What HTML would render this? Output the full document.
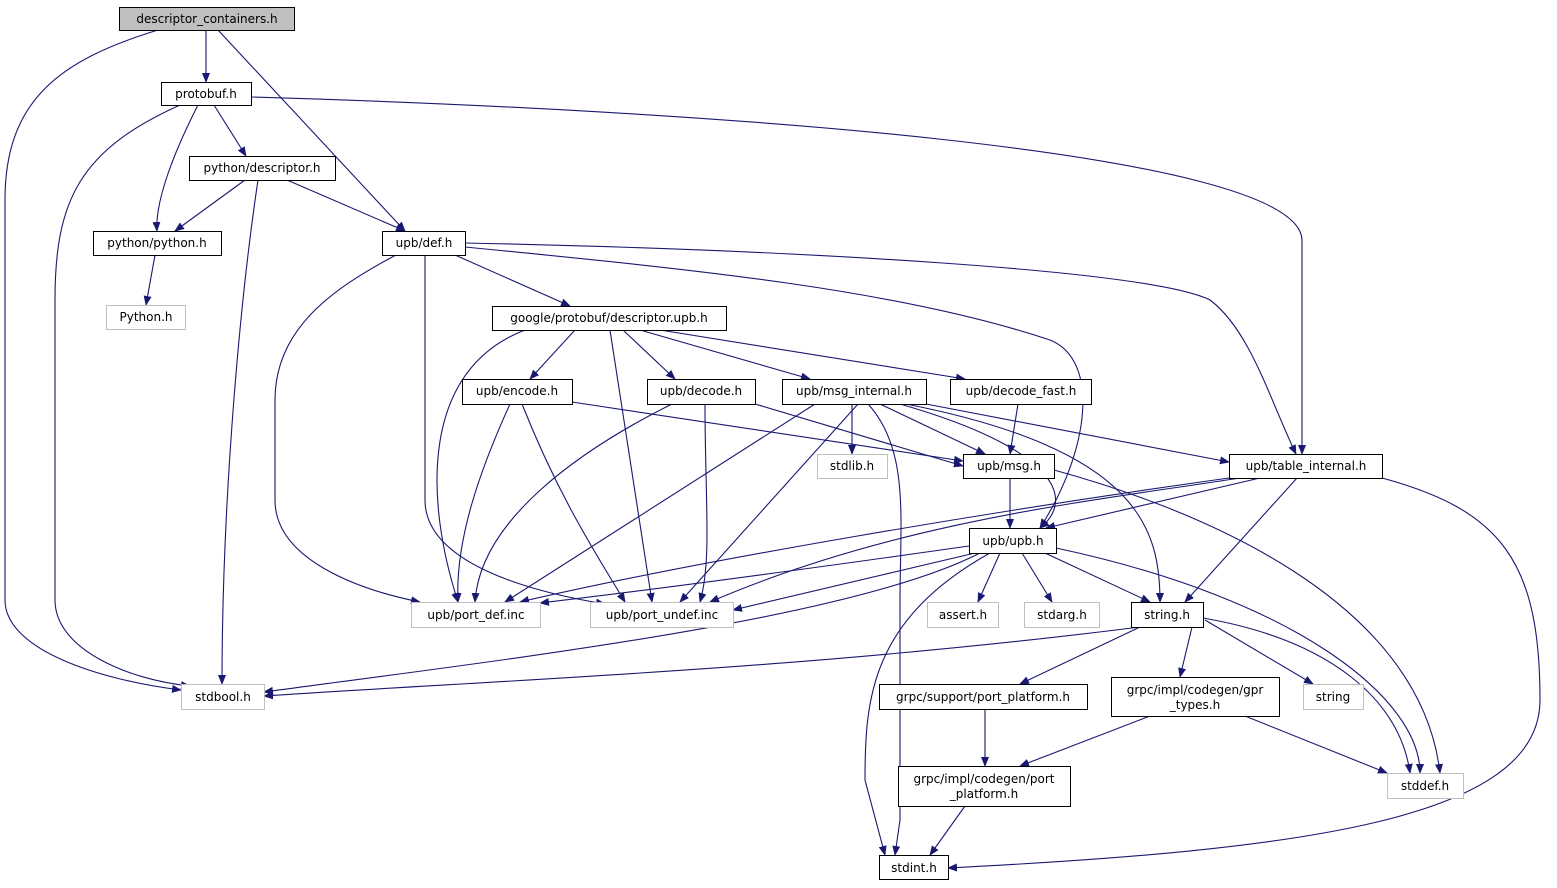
<!DOCTYPE html>
<html><head><meta charset="utf-8"><style>
html,body{margin:0;padding:0;background:#fff;}
svg{display:block;}
text{font-family:"DejaVu Sans","Liberation Sans",sans-serif;font-size:12px;fill:#000;}
</style></head><body>
<svg width="1557" height="888" viewBox="0 0 1557 888" xmlns="http://www.w3.org/2000/svg">
<defs><marker id="a" markerWidth="10" markerHeight="8" refX="9" refY="4" orient="auto" markerUnits="userSpaceOnUse"><path d="M0,0 L10,4 L0,8 z" fill="#191970"/></marker></defs>
<g fill="none" stroke="#191970" stroke-width="1.1" marker-end="url(#a)">
<path d="M158,30 C60,60 5,100 5,200 L5,600 C5,650 100,680 181,690"/>
<path d="M206,30 L206,82"/>
<path d="M218,30 L405,231"/>
<path d="M198,105 C175,150 155,200 157,231"/>
<path d="M214,105 L246,156"/>
<path d="M180,105 C80,150 55,200 55,300 L55,600 C55,650 130,680 190,686"/>
<path d="M251,97 C700,110 1300,150 1302,240 L1302,454"/>
<path d="M245,180 L175,231"/>
<path d="M287,180 L405,231"/>
<path d="M258,180 C240,300 222,500 222,684"/>
<path d="M155,255 L146,305"/>
<path d="M455,255 L570,306"/>
<path d="M396,255 C330,290 275,330 275,400 L275,500 C275,560 360,590 420,602"/>
<path d="M425,255 L425,500 C425,560 520,590 605,604"/>
<path d="M465,247 C700,270 900,290 1050,340 C1100,360 1090,450 1040,528"/>
<path d="M465,243 C800,250 1150,270 1210,300 C1250,330 1270,400 1296,454"/>
<path d="M575,330 L530,379"/>
<path d="M623,330 L675,379"/>
<path d="M640,330 L810,379"/>
<path d="M660,330 L965,379"/>
<path d="M525,330 C420,370 425,500 458,602"/>
<path d="M610,330 L652,602"/>
<path d="M572,402 L963,461"/>
<path d="M510,404 C480,470 455,540 458,602"/>
<path d="M522,404 C560,500 600,560 625,602"/>
<path d="M755,404 L963,466"/>
<path d="M672,404 C580,450 480,520 475,602"/>
<path d="M705,404 C705,500 712,560 700,602"/>
<path d="M852,404 L852,454"/>
<path d="M880,404 L985,454"/>
<path d="M815,404 L505,602"/>
<path d="M858,404 L680,602"/>
<path d="M868,404 C910,450 900,520 900,600 L900,820 L895,855"/>
<path d="M900,404 C1060,450 1075,500 1040,528"/>
<path d="M906,404 C1140,450 1160,530 1160,602"/>
<path d="M926,404 L1229,462"/>
<path d="M1018,404 L1010,454"/>
<path d="M1010,478 L1010,528"/>
<path d="M1054,470 C1200,510 1420,600 1440,773"/>
<path d="M1229,478 C1000,510 700,560 520,602"/>
<path d="M1240,478 C1100,500 900,520 710,602"/>
<path d="M1260,478 L1046,528"/>
<path d="M1297,478 L1185,602"/>
<path d="M1382,478 C1500,510 1540,560 1540,700 C1540,820 1300,850 948,868"/>
<path d="M969,546 C800,570 650,590 540,603"/>
<path d="M975,553 L733,610"/>
<path d="M1000,553 L978,602"/>
<path d="M1022,553 L1052,602"/>
<path d="M1045,553 L1150,602"/>
<path d="M1056,548 C1300,600 1420,700 1420,773"/>
<path d="M980,553 C850,620 500,660 264,692"/>
<path d="M990,553 C870,620 865,700 865,780 L885,855"/>
<path d="M1140,627 C800,670 500,680 264,696"/>
<path d="M1140,627 L1020,684"/>
<path d="M1192,627 L1180,677"/>
<path d="M1205,620 L1313,684"/>
<path d="M1203,618 C1330,640 1400,700 1410,773"/>
<path d="M985,709 L985,766"/>
<path d="M1150,716 L1020,766"/>
<path d="M1245,716 L1387,773"/>
<path d="M965,806 L930,855"/>
</g>
<g stroke-width="1">
<rect x="119.5" y="7.5" width="175" height="23" fill="#bfbfbf" stroke="#000"/>
<rect x="161.5" y="82.5" width="90" height="23" fill="#fff" stroke="#000"/>
<rect x="189.5" y="156.5" width="146" height="24" fill="#fff" stroke="#000"/>
<rect x="93.5" y="231.5" width="128" height="24" fill="#fff" stroke="#000"/>
<rect x="106.5" y="305.5" width="79" height="24" fill="#fff" stroke="#bfbfbf"/>
<rect x="382.5" y="231.5" width="83" height="24" fill="#fff" stroke="#000"/>
<rect x="492.5" y="306.5" width="234" height="24" fill="#fff" stroke="#000"/>
<rect x="462.5" y="379.5" width="110" height="25" fill="#fff" stroke="#000"/>
<rect x="647.5" y="379.5" width="108" height="25" fill="#fff" stroke="#000"/>
<rect x="782.5" y="379.5" width="144" height="25" fill="#fff" stroke="#000"/>
<rect x="950.5" y="379.5" width="141" height="25" fill="#fff" stroke="#000"/>
<rect x="817.5" y="454.5" width="70" height="24" fill="#fff" stroke="#bfbfbf"/>
<rect x="963.5" y="454.5" width="91" height="24" fill="#fff" stroke="#000"/>
<rect x="1229.5" y="454.5" width="153" height="24" fill="#fff" stroke="#000"/>
<rect x="969.5" y="528.5" width="87" height="25" fill="#fff" stroke="#000"/>
<rect x="411.5" y="602.5" width="129" height="25" fill="#fff" stroke="#bfbfbf"/>
<rect x="590.5" y="602.5" width="143" height="25" fill="#fff" stroke="#bfbfbf"/>
<rect x="927.5" y="602.5" width="71" height="25" fill="#fff" stroke="#bfbfbf"/>
<rect x="1024.5" y="602.5" width="75" height="25" fill="#fff" stroke="#bfbfbf"/>
<rect x="1131.5" y="602.5" width="72" height="25" fill="#fff" stroke="#000"/>
<rect x="181.5" y="684.5" width="83" height="25" fill="#fff" stroke="#bfbfbf"/>
<rect x="879.5" y="684.5" width="208" height="25" fill="#fff" stroke="#000"/>
<rect x="1111.5" y="677.5" width="168" height="39" fill="#fff" stroke="#000"/>
<rect x="1303.5" y="684.5" width="60" height="25" fill="#fff" stroke="#bfbfbf"/>
<rect x="898.5" y="766.5" width="172" height="40" fill="#fff" stroke="#000"/>
<rect x="1387.5" y="773.5" width="76" height="25" fill="#fff" stroke="#bfbfbf"/>
<rect x="879.5" y="855.5" width="69" height="24" fill="#fff" stroke="#000"/>
</g>
<g text-anchor="middle">
<text x="207" y="23">descriptor_containers.h</text>
<text x="206" y="98">protobuf.h</text>
<text x="262" y="172">python/descriptor.h</text>
<text x="157" y="247">python/python.h</text>
<text x="146" y="321">Python.h</text>
<text x="424" y="247">upb/def.h</text>
<text x="609" y="322">google/protobuf/descriptor.upb.h</text>
<text x="517" y="395">upb/encode.h</text>
<text x="701" y="395">upb/decode.h</text>
<text x="854" y="395">upb/msg_internal.h</text>
<text x="1021" y="395">upb/decode_fast.h</text>
<text x="852" y="470">stdlib.h</text>
<text x="1009" y="470">upb/msg.h</text>
<text x="1306" y="470">upb/table_internal.h</text>
<text x="1013" y="545">upb/upb.h</text>
<text x="476" y="619">upb/port_def.inc</text>
<text x="662" y="619">upb/port_undef.inc</text>
<text x="963" y="619">assert.h</text>
<text x="1062" y="619">stdarg.h</text>
<text x="1167" y="619">string.h</text>
<text x="223" y="701">stdbool.h</text>
<text x="983" y="701">grpc/support/port_platform.h</text>
<text x="1195" y="694">grpc/impl/codegen/gpr</text>
<text x="1195" y="709">_types.h</text>
<text x="1333" y="701">string</text>
<text x="984" y="783">grpc/impl/codegen/port</text>
<text x="984" y="798">_platform.h</text>
<text x="1425" y="790">stddef.h</text>
<text x="914" y="872">stdint.h</text>
</g>
</svg>
</body></html>
